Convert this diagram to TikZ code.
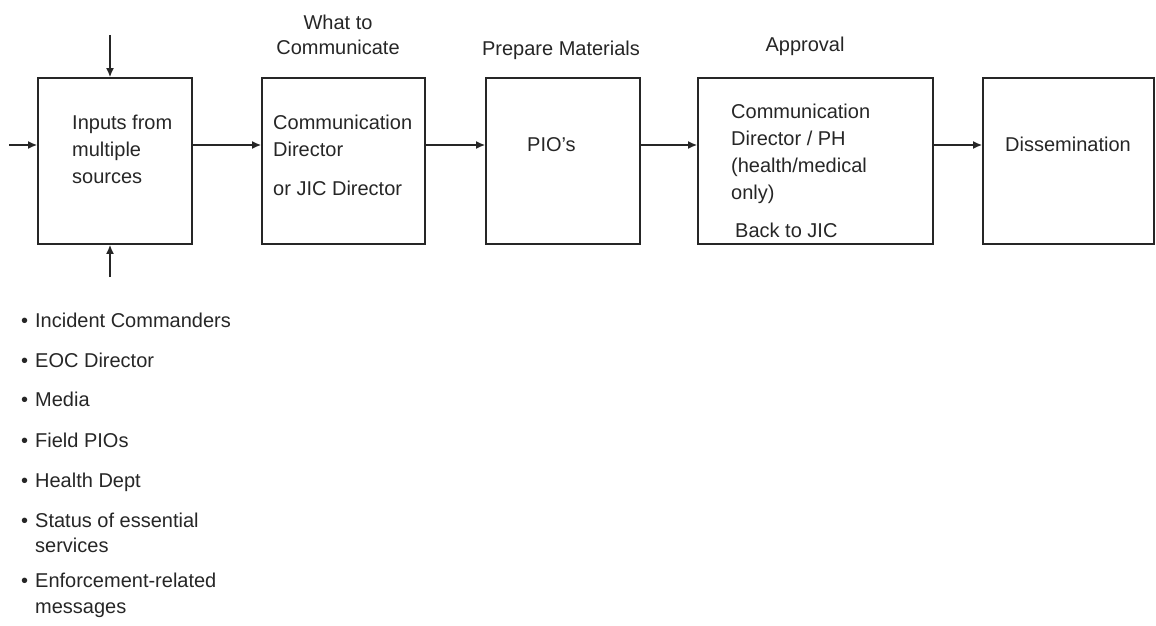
\documentclass[tikz,border=0pt]{standalone}
\usepackage{fontspec}
\setmainfont{Liberation Sans}
\usetikzlibrary{arrows.meta}
\begin{document}
\begin{tikzpicture}[x=1pt,y=-1pt,
  box/.style={draw=black!85, line width=1.8pt, inner sep=0pt, minimum height=166pt},
  arr/.style={draw=black!85, line width=1.4pt, -{Latex[length=9pt,width=8pt]}},
  txt/.style={font=\fontsize{20}{24}\selectfont, text=black!85, inner sep=0pt, anchor=base west},
  ctxt/.style={txt, anchor=base}]
\useasboundingbox (0,0) rectangle (1156,626);
% boxes
\node[box, minimum width=154pt] (b1) at (115,161) {};
\node[box, minimum width=163pt] (b2) at (343.5,161) {};
\node[box, minimum width=154pt] (b3) at (563,161) {};
\node[box, minimum width=235pt] (b4) at (815.5,161) {};
\node[box, minimum width=171pt] (b5) at (1068.5,161) {};
% arrow helper coordinates
\coordinate (ay) at (0,145);
\coordinate (lin) at (9,145);
\coordinate (tin) at (110,35);
\coordinate (bin) at (110,277);
\draw[arr] (lin) -- (b1.west |- ay);
\draw[arr] (tin) -- (tin |- b1.north);
\draw[arr] (bin) -- (bin |- b1.south);
\draw[arr] (b1.east |- ay) -- (b2.west |- ay);
\draw[arr] (b2.east |- ay) -- (b3.west |- ay);
\draw[arr] (b3.east |- ay) -- (b4.west |- ay);
\draw[arr] (b4.east |- ay) -- (b5.west |- ay);
% headings
\node[ctxt] (h1a) at (338,30) {What to};
\node[ctxt] (h1b) at (338,55) {Communicate};
\node[ctxt] (h2) at (561,56) {Prepare Materials};
\node[ctxt] (h3) at (805,52) {Approval};
% box texts
\node[txt] (t1a) at (72,129) {Inputs from};
\node[txt] (t1b) at (72,156) {multiple};
\node[txt] (t1c) at (72,183) {sources};
\node[txt] (t2a) at (273,129) {Communication};
\node[txt] (t2b) at (273,156) {Director};
\node[txt] (t2c) at (273,195) {or JIC Director};
\node[txt] (t3) at (527,151) {PIO's};
\node[txt] (t4a) at (731,118) {Communication};
\node[txt] (t4b) at (731,145) {Director / PH};
\node[txt] (t4c) at (731,172) {(health/medical};
\node[txt] (t4d) at (731,199) {only)};
\node[txt] (t4e) at (735,237) {Back to JIC};
\node[txt] (t5) at (1005,151) {Dissemination};
% bullet list
\node[txt] (l1) at (21,327) {\makebox[14pt][l]{•}Incident Commanders};
\node[txt] (l2) at (21,367) {\makebox[14pt][l]{•}EOC Director};
\node[txt] (l3) at (21,406) {\makebox[14pt][l]{•}Media};
\node[txt] (l4) at (21,447) {\makebox[14pt][l]{•}Field PIOs};
\node[txt] (l5) at (21,487) {\makebox[14pt][l]{•}Health Dept};
\node[txt] (l6a) at (21,527) {\makebox[14pt][l]{•}Status of essential};
\node[txt] (l6b) at (35,552) {services};
\node[txt] (l7a) at (21,587) {\makebox[14pt][l]{•}Enforcement-related};
\node[txt] (l7b) at (35,613) {messages};
\end{tikzpicture}
\end{document}
